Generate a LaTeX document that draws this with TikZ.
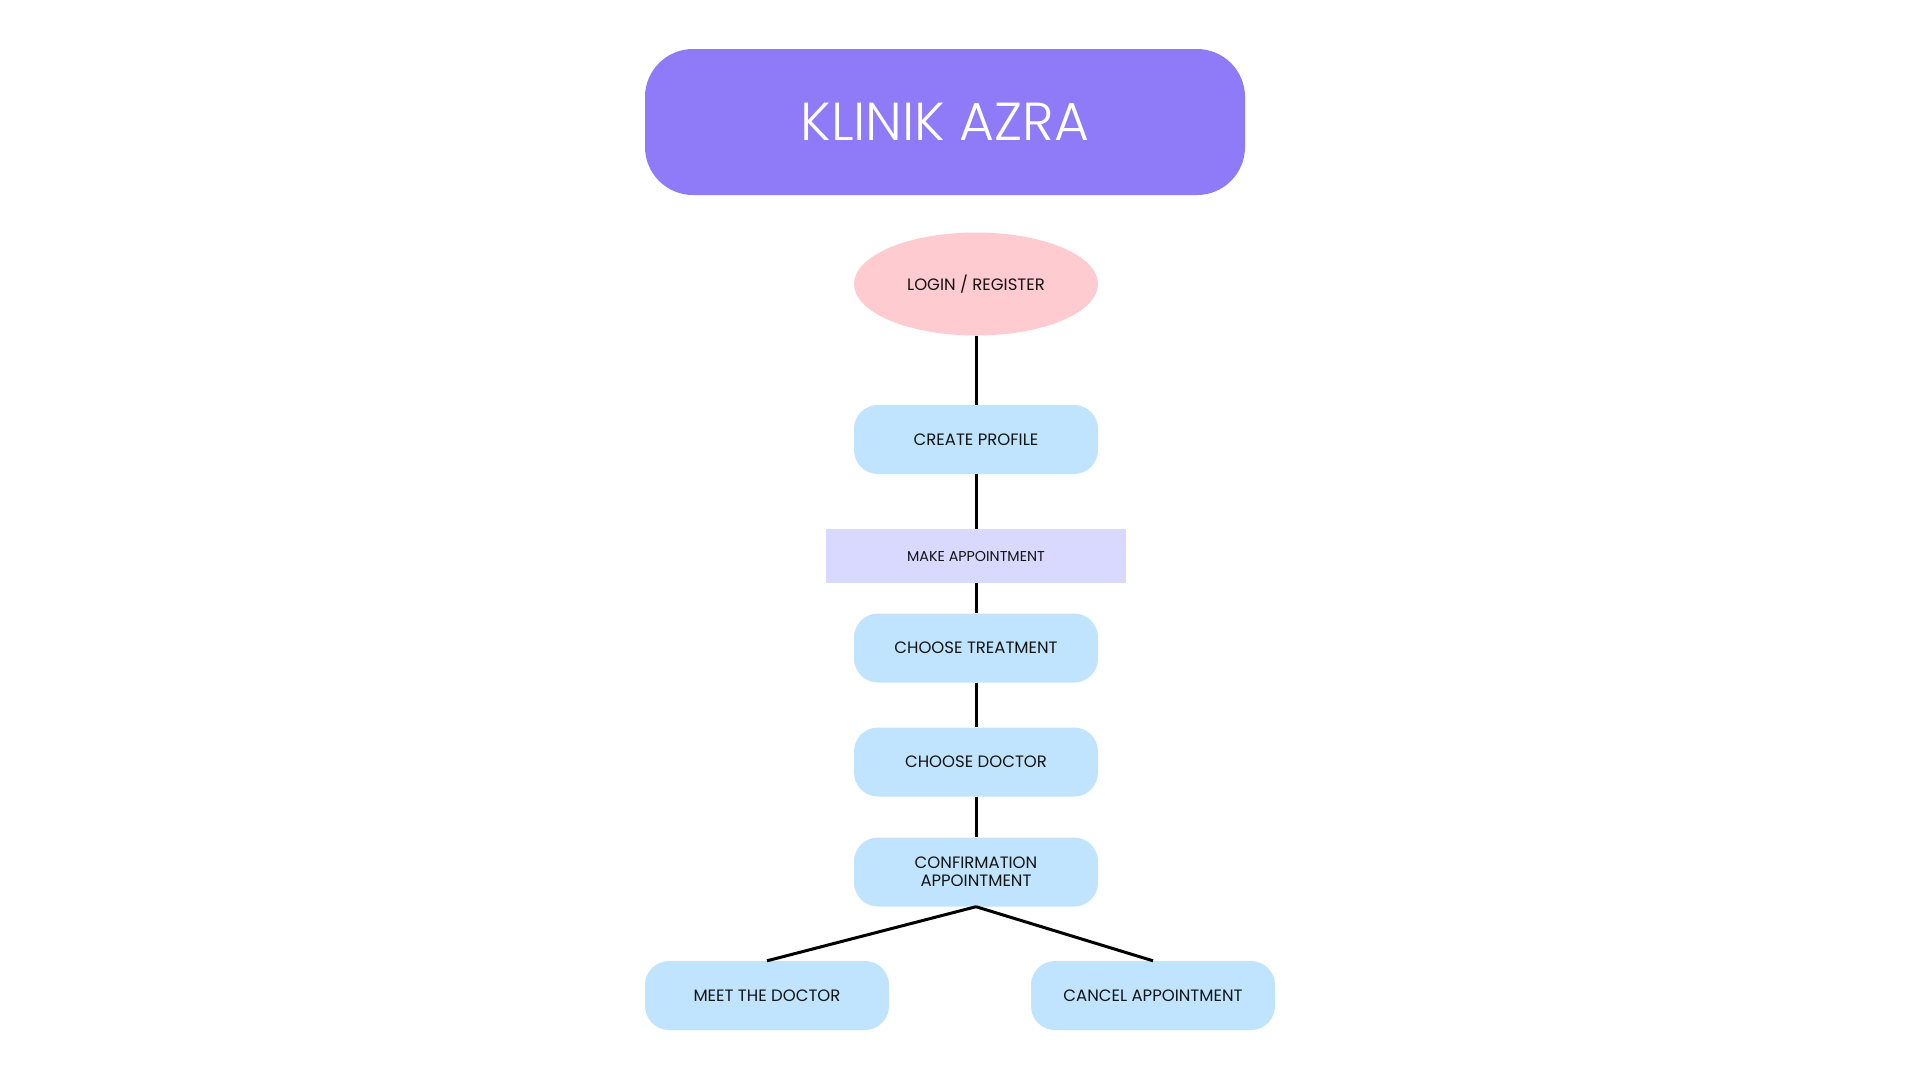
\documentclass[tikz,border=0pt]{standalone}
\usepackage{fontspec}
\setmainfont{Poppins}
\newfontfamily\titlefont{Poppins Light}
\usetikzlibrary{shapes.geometric}
\definecolor{titlec}{RGB}{143,123,248}
\definecolor{pinkc}{RGB}{254,203,209}
\definecolor{bluec}{RGB}{192,228,253}
\definecolor{lavc}{RGB}{217,217,255}
\definecolor{txt}{RGB}{20,20,20}
\tikzset{
  stepbox/.style={fill=bluec, rounded corners=24pt, minimum width=244pt, minimum height=69pt, inner sep=0pt, align=center, text=txt, font=\fontsize{16.5}{19}\selectfont},
  link/.style={line width=3pt, black}
}
\begin{document}
\begin{tikzpicture}[x=1pt,y=-1pt]
\useasboundingbox[fill=white] (0,0) rectangle (1920,1080);
\node[fill=titlec, rounded corners=48pt, minimum width=600pt, minimum height=146pt, inner sep=0pt, text=white, font=\titlefont\fontsize{53.5}{60}\selectfont] (title) at (945,122) {KLINIK AZRA};
\node[ellipse, fill=pinkc, minimum width=244pt, minimum height=103pt, inner sep=0pt, text=txt, font=\fontsize{16.5}{19}\selectfont] (login) at (976,284) {LOGIN / REGISTER};
\node[stepbox] (profile) at (976,439.5) {CREATE PROFILE};
\node[fill=lavc, minimum width=300pt, minimum height=54pt, inner sep=0pt, text=txt, font=\fontsize{14.3}{17}\selectfont] (make) at (976,556) {MAKE APPOINTMENT};
\node[stepbox] (treat) at (976,648) {CHOOSE TREATMENT};
\node[stepbox] (doctor) at (976,762) {CHOOSE DOCTOR};
\node[stepbox] (confirm) at (976,872) {CONFIRMATION\\[-1pt]APPOINTMENT};
\node[stepbox] (meet) at (767,995.5) {MEET THE DOCTOR};
\node[stepbox] (cancel) at (1153,995.5) {CANCEL APPOINTMENT};
\draw[link] (login.south) -- (profile.north);
\draw[link] (profile.south) -- (make.north);
\draw[link] (make.south) -- (treat.north);
\draw[link] (treat.south) -- (doctor.north);
\draw[link] (doctor.south) -- (confirm.north);
\draw[link] (confirm.south) -- (meet.north);
\draw[link] (confirm.south) -- (cancel.north);
\end{tikzpicture}
\end{document}
